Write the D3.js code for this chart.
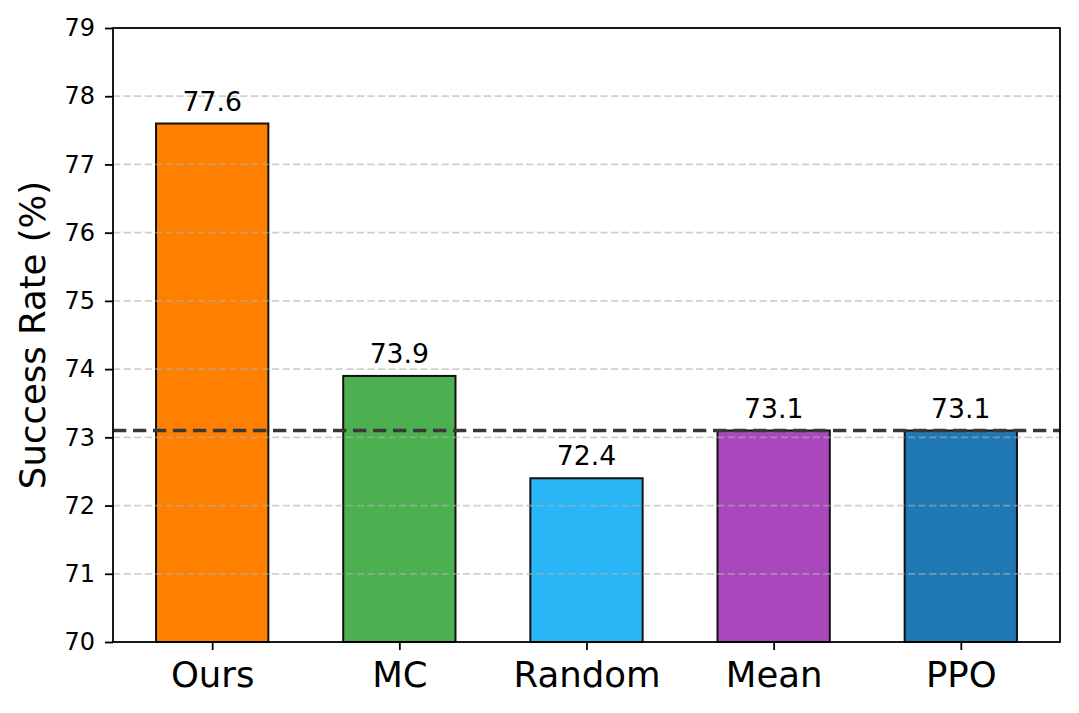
<!DOCTYPE html>
<html><head><meta charset="utf-8">
<script src="https://cdn.jsdelivr.net/npm/d3@7"></script>
<style>body{margin:0;background:#fff;} text{font-family:"DejaVu Sans",sans-serif;}</style>
</head><body>
<svg id="c" width="1079" height="713"></svg>
<script>
const categories = ["Ours","MC","Random","Mean","PPO"];
const values = [77.6, 73.9, 72.4, 73.1, 73.1];
const colors = ["#ff7f00","#4caf50","#29b6f6","#ab47bc","#1f77b4"];
const yTicks = [70,71,72,73,74,75,76,77,78,79];
const baseline = 73.1;
const yLabel = "Success Rate (%)";

const svg = d3.select("#c");
const L=113, R=1060, T=28, B=642;
const x = d3.scaleLinear().domain([-0.53, 4.53]).range([L, R]);
const y = d3.scaleLinear().domain([70, 79]).range([B, T]);
const bw = x(0.6) - x(0);

// bars
svg.selectAll("rect.bar").data(values).enter().append("rect")
  .attr("x",(d,i)=>x(i)-bw/2).attr("width",bw)
  .attr("y",d=>y(d)).attr("height",d=>B-y(d))
  .attr("fill",(d,i)=>colors[i]).attr("stroke","#111").attr("stroke-width",2);

// grid
svg.selectAll("line.grid").data(yTicks.filter(t=>t>70&&t<79)).enter().append("line")
  .attr("x1",L).attr("x2",R).attr("y1",d=>y(d)).attr("y2",d=>y(d))
  .attr("stroke","#b0b0b0").attr("stroke-opacity",0.6).attr("stroke-width",1.8)
  .attr("stroke-dasharray","7.2,3.4");

// baseline
svg.append("line").attr("x1",L).attr("x2",R).attr("y1",y(baseline)).attr("y2",y(baseline))
  .attr("stroke","#383838").attr("stroke-width",3.3).attr("stroke-dasharray","13.3,6.7");

// value labels
svg.selectAll("text.val").data(values).enter().append("text")
  .attr("x",(d,i)=>x(i)).attr("y",d=>y(d)-13)
  .attr("text-anchor","middle").attr("font-size",26.7).attr("fill","#000")
  .text(d=>d.toFixed(1));

// axes
const yAxis = d3.axisLeft(y).tickValues(yTicks).tickSize(8).tickPadding(10).tickFormat(d3.format("d"));
const gy = svg.append("g").attr("transform",`translate(${L},0)`).call(yAxis);
gy.select(".domain").remove();
gy.selectAll("line").attr("stroke","#000").attr("stroke-width",1.8);
gy.selectAll("text").attr("font-size",24).attr("fill","#000").attr("font-family","DejaVu Sans");

const xAxis = d3.axisBottom(x).tickValues(d3.range(categories.length)).tickSize(8).tickPadding(12).tickFormat(i=>categories[i]);
const gx = svg.append("g").attr("transform",`translate(0,${B})`).call(xAxis);
gx.select(".domain").remove();
gx.selectAll("line").attr("stroke","#000").attr("stroke-width",1.8);
gx.selectAll("text").attr("font-size",35.5).attr("fill","#000").attr("font-family","DejaVu Sans");

// frame
svg.append("rect").attr("x",L).attr("y",T).attr("width",R-L).attr("height",B-T)
  .attr("fill","none").attr("stroke","#000").attr("stroke-width",1.8);

svg.append("text").attr("transform",`translate(45,${(T+B)/2}) rotate(-90)`)
  .attr("text-anchor","middle").attr("font-size",35.5).attr("fill","#000").text(yLabel);
</script>
</body></html>
